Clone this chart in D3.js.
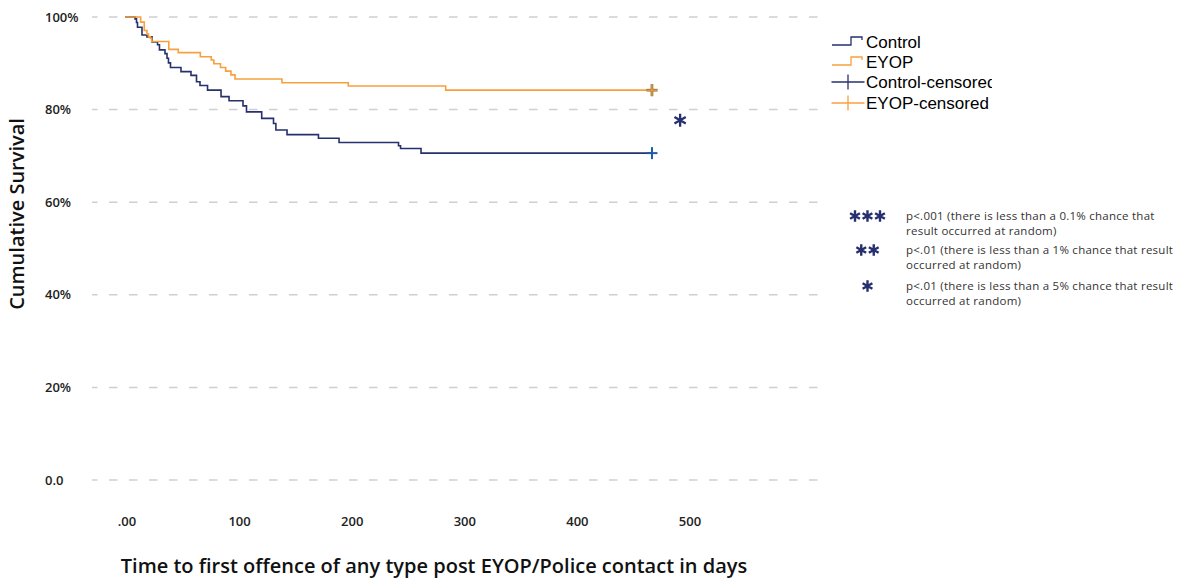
<!DOCTYPE html>
<html>
<head>
<meta charset="utf-8">
<script src="https://cdn.jsdelivr.net/npm/d3@7"></script>
<style>
  html, body { margin: 0; padding: 0; background: #fff; }
  svg { display: block; }
</style>
</head>
<body>
<svg id="chart" width="1190" height="580"></svg>
<script>
// ---------- data ----------
const controlTimes = [0, 8.9, 10.2, 11.1, 15.1, 19.5, 24.0, 28.9, 30.6, 35.5, 37.3, 38.6, 40.4, 49.7, 58.6, 63.5, 66.6, 73.3, 85.3, 92.4, 104.8, 107.9, 121.4, 131.9, 134.0, 143.9, 171.8, 190.1, 242.9, 244.7, 262.9];
const controlSurv  = [1.000, 0.996, 0.988, 0.978, 0.961, 0.957, 0.946, 0.940, 0.929, 0.921, 0.911, 0.901, 0.891, 0.882, 0.874, 0.860, 0.852, 0.842, 0.828, 0.819, 0.808, 0.795, 0.781, 0.770, 0.756, 0.746, 0.738, 0.729, 0.722, 0.716, 0.706];
const controlCensorTime = 468;

const eyopTimes = [0, 13.9, 17.1, 19.5, 20.9, 22.6, 23.7, 38.9, 47.3, 66.9, 76.6, 78.9, 84.8, 89.4, 94.1, 97.7, 139.4, 198.3, 284.8];
const eyopSurv  = [1.000, 0.989, 0.971, 0.963, 0.957, 0.954, 0.947, 0.930, 0.923, 0.914, 0.907, 0.899, 0.891, 0.883, 0.875, 0.866, 0.858, 0.851, 0.842];
const eyopCensorTime = 468;

const xTickValues = [0, 100, 200, 300, 400, 500];
const xTickLabels = [".00", "100", "200", "300", "400", "500"];
const yTickValues = [0, 0.2, 0.4, 0.6, 0.8, 1.0];
const yTickLabels = ["0.0", "20%", "40%", "60%", "80%", "100%"];

const legendLabels = ["Control", "EYOP", "Control-censored", "EYOP-censored"];
const sigStars = ["***", "**", "*"];
const sigLines = [
  ["p<.001 (there is less than a 0.1% chance that", "result occurred at random)"],
  ["p<.01 (there is less than a 1% chance that result", "occurred at random)"],
  ["p<.01 (there is less than a 5% chance that result", "occurred at random)"]
];
const sigMarker = { time: 493, surv: 0.777 }; // significance asterisk position

// ---------- style ----------
const NAVY = "#26306e";
const ORANGE = "#f7a03e";
const CBLUE = "#1f5aa6";

const svg = d3.select("#chart");
const x = d3.scaleLinear().domain([0, 500]).range([125, 688]);
const y = d3.scaleLinear().domain([0, 1]).range([480, 17]);

// gridlines
svg.append("g").selectAll("line").data(yTickValues).join("line")
  .attr("x1", 92).attr("x2", 820)
  .attr("y1", d => y(d)).attr("y2", d => y(d))
  .attr("stroke", "#cfcfcf").attr("stroke-width", 1.5)
  .attr("stroke-dasharray", "8.5,11.5").attr("stroke-dashoffset", 3);

// y tick labels
svg.append("g").selectAll("text").data(yTickValues).join("text")
  .attr("x", 45).attr("y", d => y(d)).attr("dy", "0.35em")
  .attr("font-family", "'Open Sans', sans-serif").attr("font-size", 13)
  .attr("font-weight", 600).attr("fill", "#222")
  .text((d, i) => yTickLabels[i]);

// x tick labels
svg.append("g").selectAll("text").data(xTickValues).join("text")
  .attr("x", d => x(d) + 2).attr("y", 521).attr("dy", "0.35em")
  .attr("text-anchor", "middle")
  .attr("font-family", "'Open Sans', sans-serif").attr("font-size", 13)
  .attr("font-weight", 600).attr("fill", "#222")
  .text((d, i) => xTickLabels[i]);

// axis titles
svg.append("text")
  .attr("transform", "translate(17,214) rotate(-90)")
  .attr("text-anchor", "middle").attr("dy", "0.35em")
  .attr("font-family", "'Open Sans', sans-serif").attr("font-size", 20)
  .attr("font-weight", 600).attr("fill", "#111")
  .text("Cumulative Survival");

svg.append("text")
  .attr("x", 434).attr("y", 566).attr("dy", "0.35em")
  .attr("text-anchor", "middle")
  .attr("font-family", "'Open Sans', sans-serif").attr("font-size", 20)
  .attr("font-weight", 600).attr("fill", "#111")
  .text("Time to first offence of any type post EYOP/Police contact in days");

// curves
const line = d3.line().x(d => x(d[0])).y(d => y(d[1])).curve(d3.curveStepAfter);
function curvePts(times, surv, censorT) {
  const pts = times.map((t, i) => [t, surv[i]]);
  pts.push([censorT, surv[surv.length - 1]]);
  return pts;
}
svg.append("path").datum(curvePts(controlTimes, controlSurv, controlCensorTime))
  .attr("d", line).attr("fill", "none").attr("stroke", NAVY).attr("stroke-width", 1.6);
svg.append("path").datum(curvePts(eyopTimes, eyopSurv, eyopCensorTime))
  .attr("d", line).attr("fill", "none").attr("stroke", ORANGE).attr("stroke-width", 1.6);

// censor marks
function cross(g, cx, cy, color, w, h, sw) {
  g.append("line").attr("x1", cx - w / 2).attr("x2", cx + w / 2).attr("y1", cy).attr("y2", cy)
    .attr("stroke", color).attr("stroke-width", sw);
  g.append("line").attr("x1", cx).attr("x2", cx).attr("y1", cy - h / 2).attr("y2", cy + h / 2)
    .attr("stroke", color).attr("stroke-width", sw);
}
const cg = svg.append("g");
cross(cg, x(controlCensorTime), y(controlSurv[controlSurv.length - 1]), CBLUE, 11, 12, 2);
cross(cg, x(eyopCensorTime), y(eyopSurv[eyopSurv.length - 1]), "#6b5a2a", 11, 12, 2.6);
cross(cg, x(eyopCensorTime), y(eyopSurv[eyopSurv.length - 1]), ORANGE, 11, 12, 1.4);

// significance asterisk
const star = d3.symbol().type(d3.symbolAsterisk);
svg.append("path").attr("d", star.size(120)())
  .attr("transform", `translate(${x(sigMarker.time)},${y(sigMarker.surv)})`)
  .attr("fill", "none").attr("stroke", NAVY).attr("stroke-width", 2.3);

// legend (clipped on right like the original)
svg.append("clipPath").attr("id", "legclip").append("rect")
  .attr("x", 820).attr("y", 20).attr("width", 172).attr("height", 100);
const leg = svg.append("g").attr("clip-path", "url(#legclip)");
const legColors = [NAVY, ORANGE, NAVY, ORANGE];
const legY = [42, 62, 82, 103];
legendLabels.forEach((lab, i) => {
  const cy = legY[i];
  if (i < 2) {
    leg.append("path")
      .attr("d", `M832,${cy + 3}H851V${cy - 5}H862V${cy - 2}`)
      .attr("fill", "none").attr("stroke", legColors[i]).attr("stroke-width", 1.3);
  } else {
    cross(leg, 848, cy, legColors[i], 33, 15, 1.3);
  }
  leg.append("text").attr("x", 866).attr("y", cy).attr("dy", "0.35em")
    .attr("font-family", "'Liberation Sans', Arial, sans-serif").attr("font-size", 17)
    .attr("fill", "#000").text(lab);
});

// significance legend
const sigY = [215.5, 249.5, 285.5];
sigStars.forEach((s, i) => {
  const n = s.length;
  const cx0 = 867.5 - (n - 1) * 12.5 / 2;
  for (let k = 0; k < n; k++) {
    svg.append("path").attr("d", star.size(90)())
      .attr("transform", `translate(${cx0 + k * 12.5},${sigY[i] + 0.5})`)
      .attr("fill", "none").attr("stroke", NAVY).attr("stroke-width", 2.4);
  }
  sigLines[i].forEach((txt, j) => {
    svg.append("text").attr("x", 906).attr("y", sigY[i] + j * 15).attr("dy", "0.35em")
      .attr("font-family", "'Open Sans', sans-serif").attr("font-size", 11.5)
      .attr("letter-spacing", 0.25)
      .attr("fill", "#333").text(txt);
  });
});
</script>
</body>
</html>
